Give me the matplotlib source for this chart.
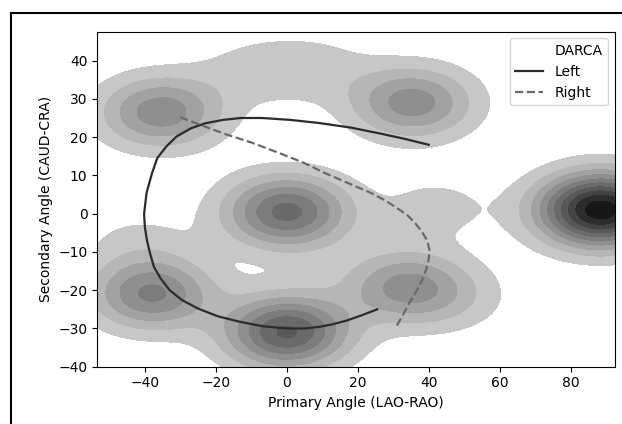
import numpy as np
import matplotlib.pyplot as plt
from matplotlib.patches import Rectangle

# cluster centres of the viewing angles and their relative density weights
cx = [-35.5, 35.5, -10, 8, 0, 42, 88.5, -38, 33, 0, 46, -42, 5]
cy = [26.5, 29, 37.5, 38, 0.5, 1.5, 1, -21, -19, -31, -22, -7, -15]
cw = [0.45, 0.44, 0.1, 0.11, 0.62, 0.115, 1.05, 0.5, 0.38, 0.7, 0.12, 0.09, 0.02]
bw_x, bw_y = 12, 6.5  # kernel bandwidth (deg)

# DARCA trajectories
left_x = [40, 33, 26, 18, 9, 1, -7, -13, -18, -23, -27, -31, -34, -36.5, -38, -39.5, -40.2,
          -40, -39.4, -38.5, -37.4, -35.5, -33, -29.5, -25, -19.5, -13.5, -7, 0, 5, 9, 13, 17, 21, 25.5]
left_y = [18, 19.6, 21, 22.5, 23.7, 24.5, 25, 25, 24.5, 23.6, 22.3, 20.2, 17.5, 14.5, 10.5, 5.5, 0,
          -3.5, -7, -10.5, -14, -17, -20, -22.6, -24.8, -26.8, -28.2, -29.4, -30, -30, -29.6, -28.9, -27.9, -26.6, -25]
right_x = [-30, -24, -18, -10, -2, 5, 11, 17.5, 24, 28, 31, 34, 36.2, 38, 39.6, 40.2, 40, 39.3, 38.3, 36.9, 35, 33, 30.6]
right_y = [25.2, 23.1, 21, 18.6, 15.8, 13.2, 10.5, 7.9, 5.3, 3.3, 1.5, -0.4, -2.5, -4.6, -7, -9.5, -12, -14.5, -17,
           -19.7, -22.6, -26, -30]

xx, yy = np.meshgrid(np.linspace(-55, 95, 500), np.linspace(-45, 50, 500))
density = np.zeros_like(xx)
for x0, y0, w in zip(cx, cy, cw):
    density += w * np.exp(-0.5 * (((xx - x0) / bw_x) ** 2 + ((yy - y0) / bw_y) ** 2))

levels = np.arange(0.086, 1.1, 0.1)
colors = plt.cm.Greys(np.linspace(0.33, 0.92, len(levels) - 1))

fig = plt.figure(figsize=(6.22, 4.24), dpi=100)
ax = fig.add_axes([0.1564, 0.1351, 0.8323, 0.7906])
ax.contourf(xx, yy, density, levels=levels, colors=colors)
ax.plot([], [], alpha=0, label="DARCA")
ax.plot(left_x, left_y, color="#2b2b2b", lw=1.6, label="Left")
ax.plot(right_x, right_y, color="#6a6a6a", lw=1.6, ls="--", label="Right")

ax.set_xlim(-53.4, 92.5)
ax.set_ylim(-40, 47.6)
ax.set_xticks([-40, -20, 0, 20, 40, 60, 80])
ax.set_yticks([-40, -30, -20, -10, 0, 10, 20, 30, 40])
ax.set_xlabel("Primary Angle (LAO-RAO)")
ax.set_ylabel("Secondary Angle (CAUD-CRA)")
ax.legend(loc="upper right")

# outer frame of the figure
fig.patches.append(Rectangle((11 / 622, -0.1), 1.2, 1.07, transform=fig.transFigure,
                             fill=False, edgecolor="black", lw=1.5))

fig.savefig("out.png")
